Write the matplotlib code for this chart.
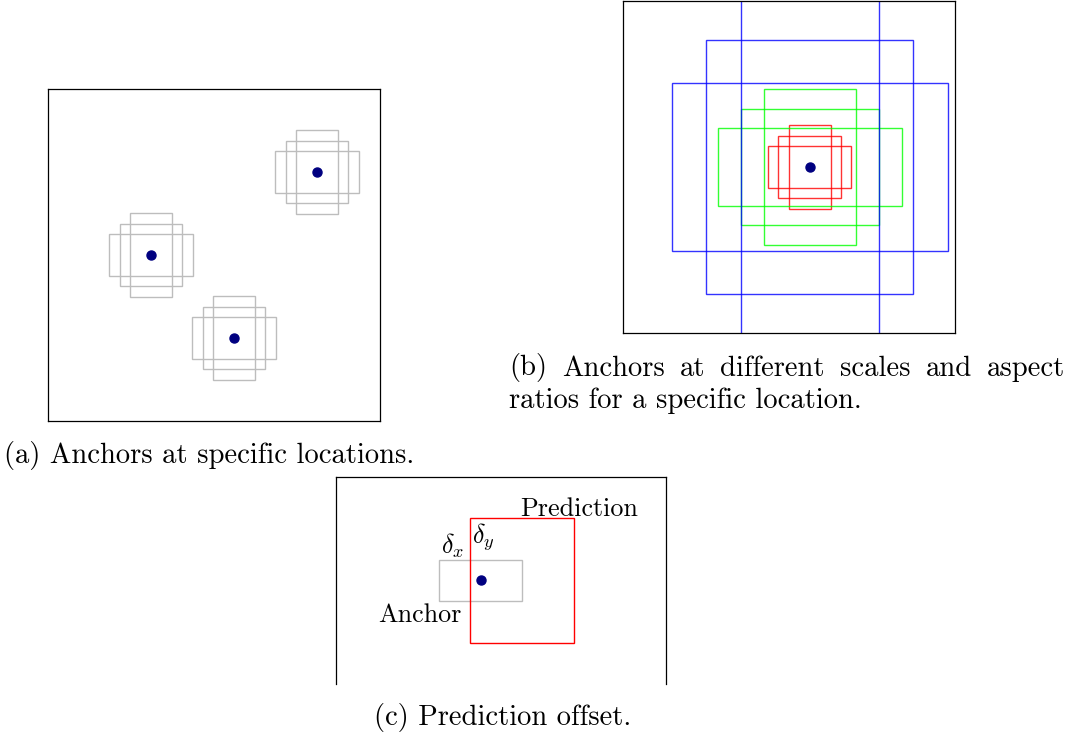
import matplotlib
matplotlib.use("Agg")
import matplotlib.pyplot as plt
from matplotlib.patches import Rectangle

plt.rcParams['mathtext.fontset'] = 'cm'
plt.rcParams['axes.formatter.use_mathtext'] = True
FONT = 'cmr10'

# ---------------- data (fractions of panel side, y measured from top) -------------
# Panel (a): anchor locations and anchor shapes (w, h)
a_centers_x = [0.81, 0.31, 0.56]
a_centers_y = [0.25, 0.50, 0.75]
a_shapes_w = [0.189, 0.252, 0.126]
a_shapes_h = [0.189, 0.126, 0.252]

# Panel (b): one location, three scales x three aspect ratios
b_center = (0.563, 0.50)
b_scale_colors = ['#ff0000', '#00ff00', '#0000ff']
b_shapes_w = [[0.190, 0.250, 0.126],
              [0.417, 0.555, 0.277],
              [0.623, 0.829, 0.417]]
b_shapes_h = [[0.188, 0.126, 0.252],
              [0.352, 0.235, 0.469],
              [0.763, 0.508, 1.300]]

# Panel (c): anchor and prediction boxes (x0, y0, w, h)
c_anchor_center = (0.439, 0.313)
c_anchor_size = (0.2515, 0.125)
c_pred_box = (0.407, 0.125, 0.315, 0.377)
c_labels = ['Prediction', r'$\delta_x$', r'$\delta_y$', 'Anchor']
c_label_x = [0.558, 0.318, 0.412, 0.128]
c_label_y = [0.117, 0.232, 0.200, 0.440]

captions = ['(a) Anchors at specific locations.',
            '(b) Anchors at different scales and aspect',
            'ratios for a specific location.',
            '(c) Prediction offset.']

W, H = 1077, 738
fig = plt.figure(figsize=(W / 100, H / 100), dpi=100)
CAP_FS = 20.6
LAB_FS = 18.8


def add_ax(x0, y0, x1, y1):
    return fig.add_axes([x0 / W, 1 - y1 / H, (x1 - x0) / W, (y1 - y0) / H])


def style(ax, ylim):
    ax.set_xlim(0, 1)
    ax.set_ylim(ylim, 0)
    ax.set_xticks([])
    ax.set_yticks([])
    for s in ax.spines.values():
        s.set_linewidth(0.9)
        s.set_color('black')


GRAY = '#bdbdbd'
LW = 1.0

# ---------------- panel (a) ----------------
axa = add_ax(48, 89, 380, 421)
style(axa, 1)
for cx, cy in zip(a_centers_x, a_centers_y):
    for w, h in zip(a_shapes_w, a_shapes_h):
        axa.add_patch(Rectangle((cx - w / 2, cy - h / 2), w, h, fill=False,
                                edgecolor=GRAY, lw=LW))
    axa.plot([cx], [cy], 'o', color='#000080', ms=6.5, zorder=5)

# ---------------- panel (b) ----------------
axb = add_ax(623, 1, 955, 333)
style(axb, 1)
cx, cy = b_center
for col, ws, hs in zip(b_scale_colors, b_shapes_w, b_shapes_h):
    for w, h in zip(ws, hs):
        axb.add_patch(Rectangle((cx - w / 2, cy - h / 2), w, h, fill=False,
                                edgecolor=col, lw=LW, alpha=0.8, clip_on=True))
axb.plot([cx], [cy], 'o', color='#000080', ms=6.5, zorder=5)

# ---------------- panel (c) ----------------
axc = add_ax(336, 477, 666, 684)
style(axc, 207 / 330)
axc.spines['bottom'].set_visible(False)
acx, acy = c_anchor_center
aw, ah = c_anchor_size
axc.add_patch(Rectangle((acx - aw / 2, acy - ah / 2), aw, ah, fill=False,
                        edgecolor=GRAY, lw=LW))
px, py, pw, ph = c_pred_box
axc.add_patch(Rectangle((px, py), pw, ph, fill=False, edgecolor='#ff0000', lw=LW))
axc.plot([acx], [acy], 'o', color='#000080', ms=6.5, zorder=5)
for t, x, y in zip(c_labels, c_label_x, c_label_y):
    axc.text(x, y, t, fontsize=LAB_FS, family=FONT, ha='left', va='baseline')

# ---------------- captions ----------------
fig.text(209 / W, 1 - 462.5 / H, captions[0], fontsize=CAP_FS, family=FONT,
         ha='center', va='baseline')

# justified first line of caption (b)
renderer = fig.canvas.get_renderer()
words = captions[1].split()
x_left, x_right = 509.0, 1065.0
objs = [fig.text(0, 1 - 375.5 / H, wd, fontsize=CAP_FS, family=FONT,
                 ha='left', va='baseline') for wd in words]
widths = [o.get_window_extent(renderer).width for o in objs]
gap = (x_right - x_left - sum(widths)) / (len(words) - 1)
xpos = x_left
for o, wdt in zip(objs, widths):
    o.set_x(xpos / W)
    xpos += wdt + gap

fig.text(509 / W, 1 - 407.5 / H, captions[2], fontsize=CAP_FS, family=FONT,
         ha='left', va='baseline')
fig.text(503 / W, 1 - 724.5 / H, captions[3], fontsize=CAP_FS, family=FONT,
         ha='center', va='baseline')

fig.savefig('out.png', dpi=100)
